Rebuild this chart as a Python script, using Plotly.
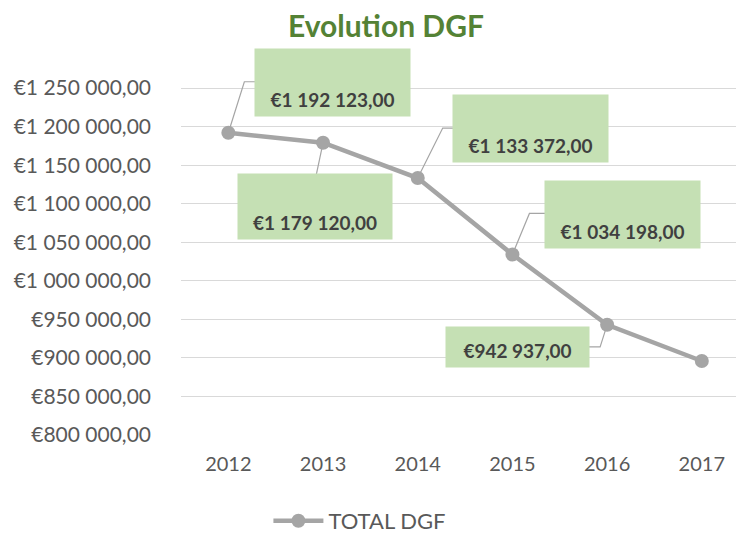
import plotly.graph_objects as go

years = ["2012", "2013", "2014", "2015", "2016", "2017"]
total_dgf = [1192123, 1179120, 1133372, 1034198, 942937, 896000]
label_texts = ["€1 192 123,00", "€1 179 120,00", "€1 133 372,00", "€1 034 198,00", "€942 937,00", None]
y_tick_vals = [800000, 850000, 900000, 950000, 1000000, 1050000, 1100000, 1150000, 1200000, 1250000]
y_tick_text = ["€800 000,00", "€850 000,00", "€900 000,00", "€950 000,00", "€1 000 000,00",
               "€1 050 000,00", "€1 100 000,00", "€1 150 000,00", "€1 200 000,00", "€1 250 000,00"]

# label box placement: pixel offset of box centre from its point (x right, y up), box size
label_layout = [
    (104, 50, 155, 67),
    (-8, -64, 154, 65),
    (113, 50, 155, 67),
    (110, 40, 155, 67),
    (-90, -22, 143, 40),
]
# elbow leader lines: pixel offsets from the point (x right, y up)
leader_paths = [
    [(16, 51), (27, 51)],
    [(-7, -33)],
    [(25, 50), (36, 50)],
    [(17, 41), (33, 41)],
    [(-7, -22), (-19, -22)],
]

FONT = "Lato, 'Open Sans', sans-serif"
GREY = "#A5A5A5"
PAD = 5

fig = go.Figure()
fig.add_trace(go.Scatter(
    x=years, y=total_dgf, mode="lines+markers", name="TOTAL DGF",
    line=dict(color=GREY, width=4.5),
    marker=dict(color=GREY, size=14),
))

annotations = []
shapes = []
for i, txt in enumerate(label_texts):
    if txt is None:
        continue
    dx, dy, w, h = label_layout[i]
    annotations.append(dict(
        x=i, y=total_dgf[i], xref="x", yref="y",
        text="<b>" + txt + "</b>",
        showarrow=False, xshift=dx, yshift=dy,
        width=w - 2 * PAD, height=h - 2 * PAD, valign="bottom", align="center",
        bgcolor="#C5E0B4", borderpad=PAD,
        font=dict(family=FONT, size=19, color="#404040"),
    ))
    path = "M0,0" + "".join(f" L{px},{py}" for px, py in leader_paths[i])
    shapes.append(dict(
        type="path", path=path, xref="x", yref="y",
        xsizemode="pixel", ysizemode="pixel", xanchor=i, yanchor=total_dgf[i],
        line=dict(color=GREY, width=1.2), layer="between",
    ))

fig.update_layout(
    width=744, height=536,
    paper_bgcolor="white", plot_bgcolor="white",
    margin=dict(l=173, r=0, t=57, b=109),
    title=dict(text="<b>Evolution DGF</b>", x=0.508, xanchor="center", y=0.9646, yanchor="middle",
               xref="container", yref="container",
               font=dict(family=FONT, size=30, color="#548235")),
    font=dict(family=FONT, size=18, color="#595959"),
    showlegend=True,
    legend=dict(orientation="h", x=0.473, xanchor="center", y=0.043, yanchor="middle",
                xref="container", yref="container",
                font=dict(family=FONT, size=22, color="#595959"), itemwidth=50),
    annotations=annotations,
    shapes=shapes,
    xaxis=dict(type="category", range=[-0.5, 5.53], showgrid=False, zeroline=False,
               showline=False, ticks="", tickfont=dict(size=20, color="#595959"),
               ticklabelstandoff=15),
    yaxis=dict(range=[800000, 1280000], tickvals=y_tick_vals, ticktext=y_tick_text,
               showgrid=True, gridcolor="#D9D9D9", gridwidth=1.3, zeroline=False,
               showline=False, ticks="", tickfont=dict(size=21, color="#595959"),
               ticklabelstandoff=29),
)

fig.write_html("out.html")
